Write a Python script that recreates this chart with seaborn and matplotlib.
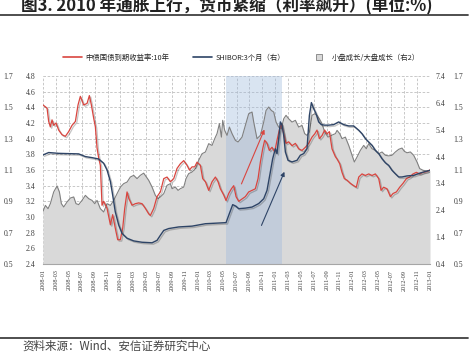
import numpy as np
import matplotlib
matplotlib.use("Agg")
import matplotlib.pyplot as plt
import matplotlib.patheffects as pe
from matplotlib.lines import Line2D
from matplotlib.font_manager import FontProperties
import seaborn as sns

sns.set_theme(style="white")
plt.rcParams['font.family'] = ['Noto Sans CJK SC', 'DejaVu Sans']
plt.rcParams['axes.unicode_minus'] = False

# x = months since 2008-01
x_labels = ["2008-01", "2008-03", "2008-05", "2008-07", "2008-09", "2008-11",
            "2009-01", "2009-03", "2009-05", "2009-07", "2009-09", "2009-11",
            "2010-01", "2010-03", "2010-05", "2010-07", "2010-09", "2010-11",
            "2011-01", "2011-03", "2011-05", "2011-07", "2011-09", "2011-11",
            "2012-01", "2012-03", "2012-05", "2012-07", "2012-09", "2012-11",
            "2013-01"]

# 中债国债到期收益率:10年 (left axis)
bond_m = [0.0, 0.63, 0.88, 1.14, 1.40, 1.66, 2.02, 2.43, 2.95, 3.47, 3.98, 4.50,
          5.02, 5.43, 5.79, 6.31, 6.83, 7.19, 7.50, 7.86, 8.12, 8.38, 8.64, 8.89,
          9.15, 9.41, 9.93, 10.45, 10.80, 11.20, 11.58, 11.99, 12.36, 12.67, 13.03,
          13.29, 13.80, 14.32, 14.84, 15.36, 15.87, 16.39, 16.65, 17.17, 17.68,
          18.20, 18.72, 19.23, 19.75, 20.27, 20.78, 21.30, 21.82, 22.33, 22.70,
          23.11, 23.52, 23.88, 24.40, 24.76, 25.18, 25.69, 26.21, 26.73, 27.14,
          27.50, 28.02, 28.38, 28.79, 29.21, 29.57, 29.93, 30.34, 30.86, 31.37,
          31.89, 32.41, 32.92, 33.34, 33.70, 34.06, 34.37, 34.73, 35.09, 35.51,
          35.92, 36.28, 36.64, 36.95, 37.32, 37.68, 38.09, 38.61, 39.13, 39.64,
          40.16, 40.68, 41.19, 41.71, 42.12, 42.48, 42.85, 43.26, 43.67, 44.03,
          44.40, 44.81, 45.33, 45.59, 46.00, 46.36, 46.72, 47.14, 47.65, 48.17,
          48.58, 48.95, 49.46, 49.98, 50.50, 51.01, 51.53, 52.05, 52.41, 52.82,
          53.34, 53.86, 54.27, 54.79, 55.30, 55.82, 56.34, 56.85, 57.37, 57.89,
          58.40, 58.92, 59.54, 60.0]
bond_v = [4.43, 4.39, 4.22, 4.15, 4.24, 4.17, 4.20, 4.11, 4.05, 4.03, 4.09, 4.17,
          4.22, 4.43, 4.54, 4.43, 4.45, 4.55, 4.43, 4.26, 4.15, 3.88, 3.75, 3.66,
          3.15, 3.20, 3.11, 2.90, 3.03, 2.86, 2.71, 2.71, 2.86, 3.11, 3.32,
          3.24, 3.15, 3.17, 3.18, 3.17, 3.11, 3.04, 3.02, 3.11, 3.26,
          3.32, 3.49, 3.51, 3.45, 3.49, 3.62, 3.68, 3.72, 3.66, 3.60,
          3.64, 3.64, 3.70, 3.66, 3.49, 3.45, 3.34, 3.45, 3.51, 3.45,
          3.36, 3.28, 3.21, 3.30, 3.36, 3.40, 3.26, 3.20, 3.23, 3.26,
          3.32, 3.34, 3.36, 3.49, 3.70, 3.87, 3.98, 3.94, 3.85, 3.89,
          3.83, 3.98, 4.11, 4.19, 4.06, 3.94, 3.96, 3.91, 3.94, 3.87,
          3.85, 3.89, 3.94, 4.02, 4.06, 4.11, 4.00, 4.04, 4.11, 4.06,
          4.09, 3.87, 3.77, 3.74, 3.68, 3.57, 3.49, 3.47, 3.43, 3.40,
          3.38, 3.51, 3.55, 3.53, 3.55, 3.53, 3.55, 3.49, 3.34, 3.38,
          3.36, 3.26, 3.30, 3.32, 3.38, 3.43, 3.49, 3.51, 3.55, 3.57,
          3.55, 3.57, 3.58, 3.60]

# SHIBOR:3个月 (right axis)
shibor_m = [0.0, 0.88, 2.43, 5.53, 6.57, 7.60, 8.64, 9.41, 9.93, 10.45, 10.80,
            11.20, 11.74, 12.25, 13.03, 14.06, 15.35, 16.91, 17.68, 18.20, 18.72,
            19.49, 21.04, 23.11, 25.18, 28.38, 28.79, 29.41, 29.93, 30.34, 31.37,
            32.41, 33.44, 34.22, 34.73, 35.25, 35.61, 36.02, 36.28, 36.54, 36.80,
            37.06, 37.32, 37.58, 37.99, 38.61, 39.38, 39.90, 40.42, 40.93, 41.30,
            41.61, 41.97, 42.33, 42.74, 43.16, 43.67, 44.29, 45.07, 45.84, 46.62,
            47.40, 48.17, 48.95, 49.46, 49.98, 50.50, 51.01, 51.53, 52.05, 52.56,
            53.08, 53.60, 54.11, 54.63, 55.15, 55.66, 56.44, 57.47, 58.51, 59.54,
            60.0]
shibor_v = [4.46, 4.55, 4.52, 4.50, 4.40, 4.36, 4.31, 4.15, 3.90, 3.47, 2.97,
            2.35, 1.85, 1.54, 1.36, 1.26, 1.21, 1.19, 1.28, 1.47, 1.65,
            1.72, 1.78, 1.81, 1.90, 1.94, 2.21, 2.61, 2.55, 2.46, 2.48,
            2.52, 2.65, 2.83, 3.14, 3.83, 4.32, 4.69, 4.51, 5.07, 5.69,
            5.57, 5.19, 4.57, 4.26, 4.20, 4.26, 4.45, 4.51, 4.69, 5.93,
            6.41, 6.18, 6.00, 5.69, 5.59, 5.57, 5.57, 5.59, 5.69, 5.59,
            5.54, 5.54, 5.38, 5.25, 5.07, 4.94, 4.82, 4.63, 4.51, 4.32,
            4.17, 4.07, 3.89, 3.76, 3.64, 3.64, 3.68, 3.70, 3.79, 3.86,
            3.89]

# 小盘成长/大盘成长 (right axis 2)
ratio_m = [0.0, 0.37, 0.78, 1.14, 1.66, 2.18, 2.54, 2.85, 3.21, 3.73, 4.24, 4.76,
           5.12, 5.53, 6.05, 6.57, 7.09, 7.60, 8.02, 8.38, 8.89, 9.41, 9.93, 10.45,
           10.97, 11.48, 12.00, 12.51, 13.03, 13.54, 14.06, 14.58, 15.09, 15.61,
           16.39, 16.91, 17.42, 17.84, 18.20, 18.72, 19.23, 19.75, 20.01, 20.52,
           20.94, 21.30, 21.82, 22.18, 22.59, 23.11, 23.63, 24.14, 24.66, 25.18,
           25.69, 26.21, 26.62, 26.98, 27.35, 27.66, 27.86, 28.17, 28.53, 28.90,
           29.31, 29.83, 30.24, 30.86, 31.37, 31.89, 32.41, 32.67, 33.18, 33.70,
           34.22, 34.58, 34.99, 35.40, 35.77, 36.13, 36.54, 36.95, 37.32, 37.68,
           38.09, 38.61, 39.13, 39.64, 40.16, 40.57, 40.93, 41.30, 41.71, 42.12,
           42.48, 42.85, 43.26, 43.67, 44.19, 44.71, 45.33, 45.59, 46.00, 46.36,
           46.88, 47.40, 47.91, 48.27, 48.69, 49.20, 49.72, 50.13, 50.50, 51.01,
           51.53, 52.05, 52.56, 53.08, 53.60, 54.11, 54.63, 55.15, 55.66, 56.03,
           56.44, 56.96, 57.47, 57.99, 58.40, 58.92, 59.54, 60.0]
ratio_v = [0.836, 0.874, 0.853, 0.885, 0.960, 0.998, 0.960, 0.885, 0.864, 0.896,
           0.921, 0.928, 0.885, 0.879, 0.906, 0.938, 0.917, 0.906, 0.885, 0.906,
           0.853, 0.832, 0.885, 0.874, 0.906, 0.949, 0.991, 1.013, 1.023, 1.055,
           1.066, 1.045, 1.066, 1.080, 1.034, 0.991, 0.938, 0.917, 0.928, 0.949,
           1.002, 1.013, 0.981, 0.991, 0.970, 0.981, 0.991, 1.045, 1.077, 1.087,
           1.108, 1.162, 1.204, 1.215, 1.268, 1.257, 1.300, 1.332, 1.396, 1.310,
           1.417, 1.353, 1.321, 1.374, 1.332, 1.289, 1.279, 1.310, 1.385, 1.459,
           1.470, 1.406, 1.300, 1.321, 1.406, 1.480, 1.502, 1.480, 1.470, 1.406,
           1.374, 1.364, 1.427, 1.449, 1.427, 1.406, 1.417, 1.374, 1.385, 1.332,
           1.321, 1.342, 1.449, 1.459, 1.449, 1.427, 1.396, 1.342, 1.310, 1.321,
           1.332, 1.353, 1.332, 1.300, 1.310, 1.257, 1.194, 1.151, 1.183, 1.225,
           1.257, 1.236, 1.268, 1.236, 1.225, 1.204, 1.215, 1.194, 1.190, 1.194,
           1.215, 1.232, 1.240, 1.219, 1.210, 1.215, 1.194, 1.151, 1.109, 1.098,
           1.094, 1.098]

band_start, band_end = 28.4, 37.0
red_arrow = ((30.6, 3.39), (34.5, 4.15))
blue_arrow = ((33.7, 2.86), (37.6, 3.61))

red = "#D9453F"
navy = "#2E4466"
gray_line = "#808080"
gray_fill = "#D9D9D9"
serif = "Liberation Serif"
cjk = ["Noto Sans CJK SC", "DejaVu Sans"]

fig = plt.figure(figsize=(4.73, 3.52), dpi=100)
base = fig.add_axes([43 / 473, 88 / 352, 387 / 473, 188 / 352])
axL = base.twinx()
axR = base.twinx()
axFL = base.twinx()

# gray area, right axis 2
base.fill_between(ratio_m, 0.5, ratio_v, color=gray_fill, lw=0, zorder=1)
sns.lineplot(x=ratio_m, y=ratio_v, ax=base, color=gray_line, lw=0.8, zorder=2)
base.axvspan(band_start, band_end, color="#9DB9DC", alpha=0.38, lw=0, zorder=1.2)
base.set_xlim(0, 60)
base.set_ylim(0.5, 1.7)
base.set_yticks(np.arange(0.5, 1.71, 0.2))
base.set_yticks(np.arange(0.6, 1.7, 0.2), minor=True)
base.set_yticklabels([f"{v:.1f}" for v in np.arange(0.5, 1.71, 0.2)])
base.yaxis.tick_right()
base.tick_params(axis="y", which="both", length=0, pad=17, colors="#404040",
                 labelsize=5.6, labelfontfamily=serif)
base.set_xticks(range(0, 61, 2))
base.set_xticklabels(x_labels, rotation=90)
base.tick_params(axis="x", length=2, width=0.5, color="#A6A6A6", pad=2,
                 labelcolor="#404040", labelsize=4.6, labelfontfamily=serif)
base.grid(True, which="both", axis="both", color="#BFBFBF", lw=0.6, ls=(0, (3, 2)))
for s in ["top", "left", "right"]:
    base.spines[s].set_visible(False)
base.spines["bottom"].set_color("#A6A6A6")
base.spines["bottom"].set_linewidth(0.8)
base.set_xlabel("")
base.set_ylabel("")

shadow = [pe.SimpleLineShadow(offset=(1, -1), alpha=0.25, shadow_color="k"), pe.Normal()]

# bond yield, left axis
axL.yaxis.tick_left()
sns.lineplot(x=bond_m, y=bond_v, ax=axL, color=red, lw=0.9, path_effects=shadow)
axL.set_ylim(2.4, 4.8)
axL.set_yticks(np.arange(2.4, 4.81, 0.2))
axL.set_yticklabels([f"{v:.1f}" for v in np.arange(2.4, 4.81, 0.2)])
axL.tick_params(axis="y", length=0, pad=5.5, colors="#404040",
                labelsize=5.6, labelfontfamily=serif)
axL.annotate("", xy=red_arrow[1], xytext=red_arrow[0],
             arrowprops=dict(arrowstyle="-|>", color=red, lw=0.8, mutation_scale=6))
axL.annotate("", xy=blue_arrow[1], xytext=blue_arrow[0],
             arrowprops=dict(arrowstyle="-|>", color=navy, lw=0.8, mutation_scale=6))

# SHIBOR, right axis
axR.yaxis.tick_right()
sns.lineplot(x=shibor_m, y=shibor_v, ax=axR, color=navy, lw=1.0, path_effects=shadow)
axR.set_ylim(0.4, 7.4)
axR.set_yticks(np.arange(0.4, 7.41, 1.0))
axR.set_yticklabels([f"{v:.1f}" for v in np.arange(0.4, 7.41, 1.0)])
axR.tick_params(axis="y", length=0, pad=4, colors="#404040",
                labelsize=5.6, labelfontfamily=serif)

# far-left copy of right axis 2
axFL.yaxis.tick_left()
axFL.set_ylim(0.518, 1.663)
axFL.set_yticks(np.arange(0.5, 1.71, 0.2))
axFL.set_yticklabels([f"{v:.1f}" for v in np.arange(0.5, 1.71, 0.2)])
axFL.tick_params(axis="y", length=0, pad=21.5, colors="#404040",
                 labelsize=5.6, labelfontfamily=serif)

for a in [axL, axR, axFL]:
    for s in a.spines.values():
        s.set_visible(False)
    a.set_xlim(0, 60)
    a.set_ylabel("")

handles = [Line2D([], [], color=red, lw=1.2),
           Line2D([], [], color=navy, lw=1.2),
           Line2D([], [], color=gray_line, marker="s", markersize=4,
                  markerfacecolor=gray_fill, markeredgewidth=0.6, lw=0)]
labels = ["中债国债到期收益率:10年", "SHIBOR:3个月（右）", "小盘成长/大盘成长（右2）"]
fig.legend(handles, labels, loc="center", bbox_to_anchor=(0.51, 1 - 58 / 352), ncol=3,
           frameon=False, prop=FontProperties(family=cjk, size=5.3),
           handlelength=2.6, handletextpad=0.5, columnspacing=3.2)

fig.text(21 / 473, 1 - 11 / 352, "图3. 2010 年通胀上行，货币紧缩（利率飙升）(单位:%)",
         fontsize=12, fontweight="bold", va="baseline", color="#222222", family=cjk)
fig.add_artist(Line2D([0, 468 / 473], [1 - 14.5 / 352] * 2, color="#404040", lw=1.3))
fig.add_artist(Line2D([0, 468 / 473], [1 - 338 / 352] * 2, color="#404040", lw=1.3))
fig.text(22 / 473, 1 - 346 / 352, "资料来源：Wind、安信证券研究中心", fontsize=8.3,
         va="center", color="#444444", family=cjk)

fig.savefig("out.png", dpi=100)
